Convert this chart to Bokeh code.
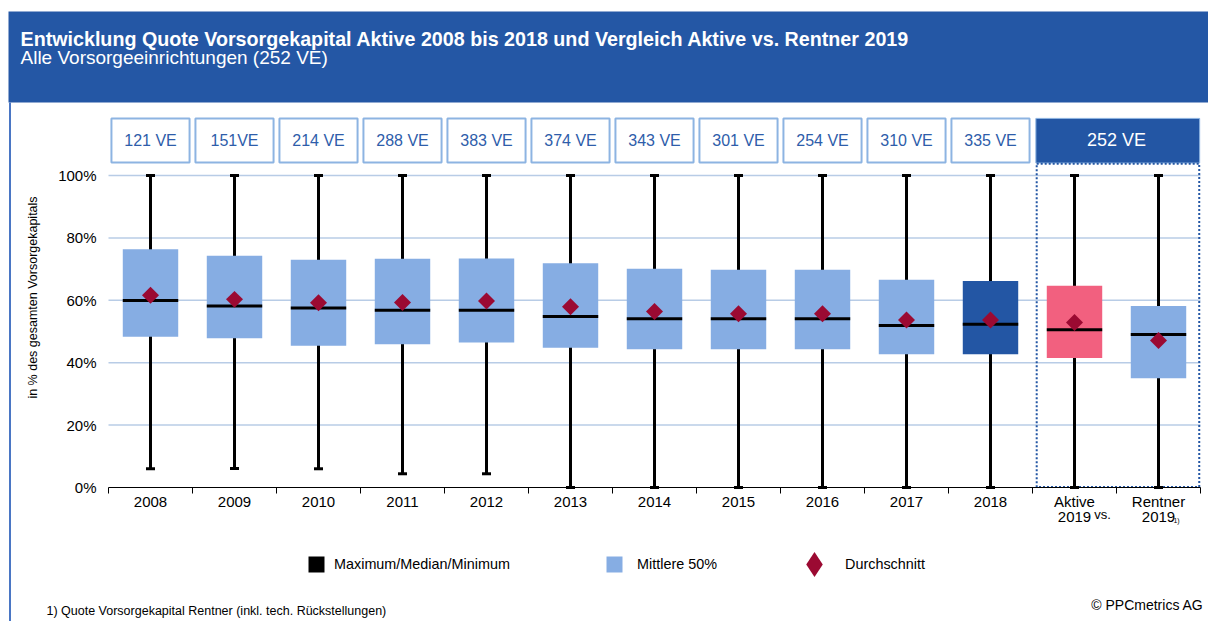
import numpy as np
from bokeh.plotting import figure
from bokeh.models import (Range1d, FixedTicker, Label, Legend, LegendItem, LinearAxis)
from bokeh.core.properties import value
from bokeh.embed import file_html
from bokeh.resources import INLINE

# ---------------- data ----------------
categories = ["2008", "2009", "2010", "2011", "2012", "2013", "2014", "2015",
              "2016", "2017", "2018", "Aktive\n2019", "Rentner\n2019"]
ve_labels = ["121 VE", "151VE", "214 VE", "288 VE", "383 VE", "374 VE", "343 VE",
             "301 VE", "254 VE", "310 VE", "335 VE"]
ve_2019 = "252 VE"
maximum = [100, 100, 100, 100, 100, 100, 100, 100, 100, 100, 100, 100, 100]
minimum = [6.0, 6.1, 6.0, 4.4, 4.4, 0, 0, 0, 0, 0, 0, 0, 0]
q3 = [76.4, 74.3, 73.0, 73.3, 73.4, 71.9, 70.1, 69.8, 69.8, 66.6, 66.2, 64.7, 58.2]
q1 = [48.3, 47.8, 45.4, 45.9, 46.5, 44.8, 44.3, 44.3, 44.3, 42.7, 42.7, 41.5, 35.0]
median = [59.9, 58.2, 57.5, 56.8, 56.8, 54.8, 54.1, 54.1, 54.1, 51.9, 52.3, 50.6, 49.0]
mean = [61.6, 60.3, 59.2, 59.3, 59.8, 57.9, 56.4, 55.7, 55.7, 53.7, 53.7, 52.9, 47.1]
box_colors = ["#86ADE3"] * 10 + ["#2356A4", "#F2607F", "#86ADE3"]
y_ticks = [0, 20, 40, 60, 80, 100]

FONT = "Liberation Sans"
HEADER_BLUE = "#2457A5"

# ---------------- scale geometry (84 px per category, 3.12 px per %) ----------------
W, H = 1208, 621
PX_X = 84.0
PX_Y = 3.12
FRAME_L, FRAME_B = 108, 487          # pixel position of x=-0.5 and y=0
X0 = -0.5 - FRAME_L / PX_X
X1 = X0 + W / PX_X
Y1 = FRAME_B / PX_Y
Y0 = Y1 - H / PX_Y


def px_x(px):
    return X0 + px / PX_X


def px_y(py):
    return (FRAME_B - py) / PX_Y


n = len(categories)
xs = list(range(n))

p = figure(width=W, height=H, output_backend="svg", toolbar_location=None,
           x_range=Range1d(X0, X1), y_range=Range1d(Y0, Y1),
           x_axis_location=None, y_axis_location=None,
           min_border=0, min_border_left=0, min_border_right=0,
           min_border_top=0, min_border_bottom=0)
p.outline_line_color = None
p.background_fill_color = "white"
p.border_fill_color = "white"
p.xgrid.visible = False
p.ygrid.visible = False

# ---------------- header band ----------------
p.quad(left=[px_x(8)], right=[X1], top=[px_y(11)], bottom=[px_y(102)],
       fill_color=HEADER_BLUE, line_color=None)
p.text(x=[px_x(20)], y=[px_y(38)],
       text=["Entwicklung Quote Vorsorgekapital Aktive 2008 bis 2018 und Vergleich Aktive vs. Rentner 2019"],
       text_font=value(FONT), text_font_size="19.7px", text_font_style="bold",
       text_color="white", text_baseline="alphabetic")
p.text(x=[px_x(20)], y=[px_y(57)], text=["Alle Vorsorgeeinrichtungen (252 VE)"],
       text_font=value(FONT), text_font_size="19px",
       text_color="white", text_baseline="alphabetic")
# left frame line
p.segment(x0=[px_x(9.5)], x1=[px_x(9.5)], y0=[px_y(102)], y1=[Y0],
          line_color="#4A76C4", line_width=2)

# ---------------- grid ----------------
grid_y = [t for t in y_ticks if t > 0]
p.segment(x0=[-0.5] * len(grid_y), x1=[n - 0.5] * len(grid_y), y0=grid_y, y1=grid_y,
          line_color="#B8CCE6", line_width=1.5)

# ---------------- axes (fixed inside the canvas-wide frame) ----------------
yax = LinearAxis(fixed_location=-0.5)
yax.ticker = FixedTicker(ticks=y_ticks)
yax.major_label_overrides = {t: f"{t}%" for t in y_ticks}
yax.axis_line_color = None
yax.major_tick_line_color = None
yax.major_tick_out = 0
yax.major_tick_in = 0
yax.minor_tick_line_color = None
yax.minor_tick_out = 0
yax.major_label_standoff = 12
yax.major_label_text_font = FONT
yax.major_label_text_font_size = "15px"
yax.major_label_text_color = "black"
p.add_layout(yax, "left")

p.add_layout(Label(x=px_x(32), y=px_y(297), text="in % des gesamten Vorsorgekapitals",
                   angle=np.pi / 2, text_font=FONT, text_font_size="12.5px",
                   text_color="black", text_align="center", text_baseline="middle"))

xax = LinearAxis(fixed_location=0, bounds=(-0.5, n - 0.5))
xax.ticker = FixedTicker(ticks=xs, minor_ticks=[i - 0.5 for i in range(n + 1)])
xax.major_label_overrides = {i: c for i, c in enumerate(categories)}
xax.major_tick_line_color = None
xax.major_tick_out = 0
xax.major_tick_in = 0
xax.minor_tick_line_color = "black"
xax.minor_tick_out = 6
xax.minor_tick_in = 0
xax.axis_line_color = "black"
xax.axis_line_width = 1
xax.major_label_standoff = -1
xax.major_label_text_font = FONT
xax.major_label_text_font_size = "15px"
xax.major_label_text_color = "black"
xax.major_label_text_line_height = 0.93
p.add_layout(xax, "below")

# ---------------- VE count boxes ----------------
ve_x = xs[:len(ve_labels)]
p.rect(x=ve_x, y=[111.25] * len(ve_x), width=0.93, height=14.1,
       fill_color="white", line_color="#8DB4E2", line_width=2)
p.text(x=ve_x, y=[111.25] * len(ve_x), text=ve_labels, text_font=value(FONT),
       text_font_size="16px", text_color="#2E5DAA", text_align="center",
       text_baseline="middle")
p.quad(left=[10.54], right=[12.49], bottom=[104.0], top=[118.3],
       fill_color="#2356A4", line_color="#8DB4E2", line_width=1)
p.text(x=[11.5], y=[111.25], text=[ve_2019], text_font=value(FONT),
       text_font_size="18px", text_color="white", text_align="center",
       text_baseline="middle")
p.quad(left=[10.55], right=[12.485], bottom=[0.2], top=[103.8],
       fill_color=None, line_color="#2356A4", line_width=2, line_dash="2 2")

# ---------------- box plot ----------------
p.segment(x0=xs, y0=minimum, x1=xs, y1=maximum, line_color="black", line_width=3)
p.rect(x=xs, y=maximum, width=9, height=3, width_units="screen", height_units="screen",
       fill_color="black", line_color=None)
p.rect(x=xs, y=minimum, width=9, height=3, width_units="screen", height_units="screen",
       fill_color="black", line_color=None)
r_box = p.vbar(x=xs, width=0.66, bottom=q1, top=q3, fill_color=box_colors, line_color=None)
r_med = p.rect(x=xs, y=median, width=0.66, height=3, height_units="screen",
               fill_color="black", line_color=None)
p.scatter(x=xs, y=mean, marker="square", angle=np.pi / 4, size=12,
          fill_color="#9B0A32", line_color=None)

# ---------------- extra axis annotations ----------------
p.add_layout(Label(x=px_x(1102), y=px_y(514), text="vs.", text_font=FONT, text_font_size="13px",
                   text_color="black", text_align="center", text_baseline="middle"))
p.add_layout(Label(x=px_x(1176), y=px_y(520), text="1)", text_font=FONT, text_font_size="7px",
                   text_color="black", text_align="center", text_baseline="middle"))

# ---------------- legends ----------------
# legend-only diamond marker (placed outside the visible range)
r_dia = p.scatter(x=[X1 + 5], y=[0], marker="diamond", fill_color="#9B0A32", line_color=None)


def make_legend(label, renderer, loc, gw, gh, standoff):
    lg = Legend(items=[LegendItem(label=label, renderers=[renderer], index=0)], location=loc,
                glyph_width=gw, glyph_height=gh, label_standoff=standoff,
                padding=0, margin=0, border_line_color=None, background_fill_alpha=0,
                label_text_font=FONT, label_text_font_size="14.4px", label_text_color="black",
                label_height=gh)
    p.add_layout(lg)


make_legend("Maximum/Median/Minimum", r_med, (306, H - 574), 20, 20, 8)
make_legend("Mittlere 50%", r_box, (604, H - 574), 20, 20, 13)
make_legend("Durchschnitt", r_dia, (783, H - 595), 62, 62, 0)

# ---------------- footnotes ----------------
p.add_layout(Label(x=px_x(46), y=px_y(610),
                   text="1) Quote Vorsorgekapital Rentner (inkl. tech. Rückstellungen)",
                   text_font=FONT, text_font_size="12.5px", text_color="black",
                   text_align="left", text_baseline="middle"))
p.add_layout(Label(x=px_x(1203), y=px_y(604), text="© PPCmetrics AG",
                   text_font=FONT, text_font_size="14px", text_color="black",
                   text_align="right", text_baseline="middle"))

open("out.html", "w").write(file_html(p, INLINE))
